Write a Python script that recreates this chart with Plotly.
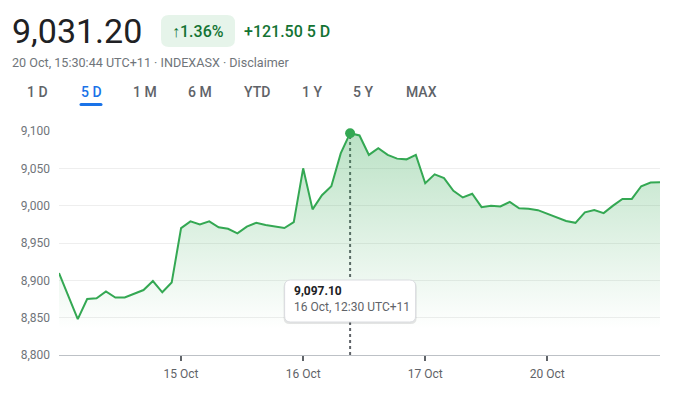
import plotly.graph_objects as go

# ---- data ----
day_labels = ["14 Oct", "15 Oct", "16 Oct", "17 Oct", "20 Oct"]
points_per_day = 13
prices = [
    # 14 Oct
    8909.7, 8879, 8848, 8875, 8876, 8885, 8877, 8877, 8882, 8887, 8899, 8884, 8897,
    # 15 Oct
    8970, 8979, 8975, 8979, 8971, 8969, 8963, 8972, 8977, 8974, 8972, 8970, 8978,
    # 16 Oct
    9050, 8995, 9014, 9026, 9070, 9097.1, 9094, 9068, 9077, 9068, 9063, 9062, 9068,
    # 17 Oct
    9030, 9042, 9037, 9020, 9011, 9016, 8998, 9000, 8999, 9005, 8996.5, 8996, 8994,
    # 20 Oct
    8989, 8985, 8979.5, 8977, 8991, 8994, 8990, 9000, 9009, 9009, 9026, 9031, 9031.2,
]
y_tickvals = [8800, 8850, 8900, 8950, 9000, 9050, 9100]
y_ticktext = ["8,800", "8,850", "8,900", "8,950", "9,000", "9,050", "9,100"]
x_tick_days = ["15 Oct", "16 Oct", "17 Oct", "20 Oct"]

tabs = ["1 D", "5 D", "1 M", "6 M", "YTD", "1 Y", "5 Y", "MAX"]
active_tab = "5 D"

last_price = "9,031.20"
pct_change = "↑1.36%"
abs_change = "+121.50 5 D"
subtitle = "20 Oct, 15:30:44 UTC+11 · INDEXASX · Disclaimer"

hover_index = 31
hover_value_text = "9,097.10"
hover_time_text = "16 Oct, 12:30 UTC+11"

# ---- derived ----
x = list(range(len(prices)))
x_tickvals = [day_labels.index(d) * points_per_day for d in x_tick_days]

OFF = 8  # page body margin
W, H = 686 - OFF, 399 - OFF
L, T = 59 - OFF, 131 - OFF
PW, PH = 601, 224
R, B = W - L - PW, H - T - PH


def px(xp):
    return (xp - OFF - L) / PW


def py(yp):
    return (H - B - (yp - OFF)) / PH


GREEN = "#34a853"
DKGREEN = "#137333"
FONT = "Roboto"

fig = go.Figure()
fig.add_trace(go.Scatter(
    x=x, y=prices, mode="lines",
    line=dict(color=GREEN, width=2),
    fill="tozeroy",
    fillgradient=dict(type="vertical", start=8835, stop=9100,
                      colorscale=[[0, "rgba(52,168,83,0)"], [1, "rgba(52,168,83,0.34)"]]),
    hoverinfo="skip", showlegend=False,
))
fig.add_trace(go.Scatter(
    x=[x[hover_index]], y=[prices[hover_index]], mode="markers",
    marker=dict(color=GREEN, size=10), cliponaxis=False,
    hoverinfo="skip", showlegend=False,
))

shapes = []
shapes.append(dict(type="line", xref="x", yref="y",
                   x0=x[hover_index], x1=x[hover_index],
                   y0=8800, y1=prices[hover_index],
                   line=dict(color="#5f6368", width=2, dash="3px,3px"), layer="below"))


def rrect(hw, hh, r):
    return (f"M {-hw + r},{-hh} L {hw - r},{-hh} Q {hw},{-hh} {hw},{-hh + r} "
            f"L {hw},{hh - r} Q {hw},{hh} {hw - r},{hh} L {-hw + r},{hh} "
            f"Q {-hw},{hh} {-hw},{hh - r} L {-hw},{-hh + r} Q {-hw},{-hh} {-hw + r},{-hh} Z")


tip_center = 8872.3
shapes.append(dict(type="path", xref="x", yref="y", xsizemode="pixel", ysizemode="pixel",
                   xanchor=x[hover_index], yanchor=tip_center - 2.0,
                   path=rrect(66.5, 21.5, 6), fillcolor="rgba(0,0,0,0.10)",
                   line=dict(width=0), layer="above"))
shapes.append(dict(type="path", xref="x", yref="y", xsizemode="pixel", ysizemode="pixel",
                   xanchor=x[hover_index], yanchor=tip_center,
                   path=rrect(65.5, 21, 6), fillcolor="white",
                   line=dict(color="#dadce0", width=1), layer="above"))

shapes.append(dict(type="path", xref="paper", yref="paper", xsizemode="pixel", ysizemode="pixel",
                   xanchor=px(198), yanchor=py(31),
                   path=rrect(37, 16, 8), fillcolor="#e6f4ea", line=dict(width=0)))
shapes.append(dict(type="path", xref="paper", yref="paper", xsizemode="pixel", ysizemode="pixel",
                   xanchor=px(91), yanchor=py(104.5),
                   path=rrect(11.5, 1.5, 1.5), fillcolor="#1a73e8", line=dict(width=0)))

ann = []
ann.append(dict(text=last_price, x=px(10), y=py(31), xref="paper", yref="paper",
                xanchor="left", yanchor="middle", showarrow=False,
                font=dict(family=FONT, size=34, color="#202124")))
ann.append(dict(text=pct_change, x=px(198), y=py(31), xref="paper", yref="paper",
                xanchor="center", yanchor="middle", showarrow=False,
                font=dict(family=FONT, size=16, color=DKGREEN, weight=500)))
ann.append(dict(text=abs_change, x=px(242), y=py(31), xref="paper", yref="paper",
                xanchor="left", yanchor="middle", showarrow=False,
                font=dict(family=FONT, size=16, color=DKGREEN, weight=500)))
ann.append(dict(text=subtitle, x=px(10), y=py(62), xref="paper", yref="paper",
                xanchor="left", yanchor="middle", showarrow=False,
                font=dict(family=FONT, size=12.6, color="#70757a")))

tab_centers = [37, 91, 145, 200, 257, 312, 363, 421]
for t, cx in zip(tabs, tab_centers):
    ann.append(dict(text=t, x=px(cx), y=py(92), xref="paper", yref="paper",
                    xanchor="center", yanchor="middle", showarrow=False,
                    font=dict(family=FONT, size=14, weight=500,
                              color="#1a73e8" if t == active_tab else "#5f6368")))

ann.append(dict(text=f"<b>{hover_value_text}</b>", x=x[hover_index], y=tip_center,
                xref="x", yref="y", xanchor="left", yanchor="middle",
                xshift=-58, yshift=10, showarrow=False,
                font=dict(family=FONT, size=12, color="#202124")))
ann.append(dict(text=hover_time_text, x=x[hover_index], y=tip_center,
                xref="x", yref="y", xanchor="left", yanchor="middle",
                xshift=-58, yshift=-6, showarrow=False,
                font=dict(family=FONT, size=12, color="#5f6368")))

fig.update_layout(
    width=W, height=H,
    margin=dict(l=L, r=R, t=T, b=B),
    paper_bgcolor="white", plot_bgcolor="white",
    shapes=shapes, annotations=ann,
    font=dict(family=FONT),
    xaxis=dict(range=[0, len(prices) - 1], tickvals=x_tickvals, ticktext=x_tick_days,
               showgrid=False, zeroline=False, showline=True, linecolor="#bdc1c6", linewidth=1,
               ticks="outside", ticklen=5, tickwidth=2, tickcolor="#5f6368",
               ticklabelstandoff=3,
               tickfont=dict(family=FONT, size=12, color="#5f6368"), fixedrange=True),
    yaxis=dict(range=[8800, 9100], tickvals=y_tickvals, ticktext=y_ticktext,
               showgrid=True, gridcolor="#eeeeee", gridwidth=1, zeroline=False,
               showline=False, ticks="", ticklabelstandoff=8,
               tickfont=dict(family=FONT, size=12, color="#70757a"), fixedrange=True),
)

fig.write_html("out.html")
